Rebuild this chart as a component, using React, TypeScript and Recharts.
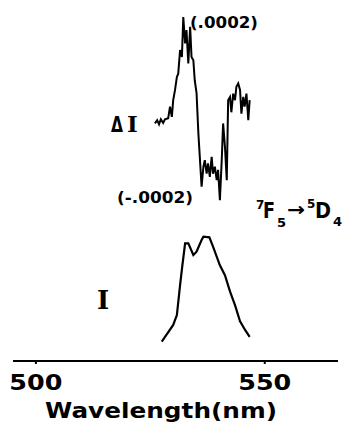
import React from 'react';
import { ComposedChart, Line, XAxis, YAxis, Label } from 'recharts';

// ΔI trace (circular polarization difference), units of 1e-4
const dIWavelength = [
  526.0, 526.5, 526.9, 527.3, 527.8, 528.2, 528.9, 529.3, 529.7, 530.0,
  530.4, 530.8, 531.1, 531.5, 531.9, 532.2, 532.6, 532.9, 533.3, 533.7,
  534.0, 534.4, 534.7, 535.1, 535.5, 536.2, 536.6, 536.9, 537.3, 537.6,
  538.0, 538.4, 538.7, 539.1, 539.5, 539.8, 540.2, 540.6, 540.9, 541.3,
  541.7, 542.0, 542.4, 542.7, 543.1, 543.5, 543.8, 544.2, 544.6, 544.9,
  545.3, 545.6, 546.0, 546.4, 546.7,
];
const dIValue = [
  -0.35, -0.28, -0.37, -0.26, -0.34, -0.26, -0.24, 0.01, -0.21, 0.15,
  0.37, 0.65, 0.72, 1.23, 1.08, 1.94, 1.37, 1.66, 0.94, 1.73,
  1.08, 1.01, 0.58, 0.3, -0.57, -1.71, -1.28, -1.14, -1.43, -1.21,
  -1.5, -1.07, -1.43, -1.28, -1.57, -1.35, -2.0, -1.14, -0.35, -0.85,
  -1.57, 0.15, 0.22, -0.11, 0.29, 0.15, 0.44, 0.51, 0.37, -0.14,
  0.22, 0.01, 0.29, -0.28, 0.15,
];

// total emission intensity I, normalised to the peak
const iWavelength = [
  527.5, 530.0, 530.8, 531.5, 532.0, 532.6, 533.3, 534.4, 535.1, 536.2,
  536.6, 537.9, 538.7, 540.2, 541.3, 542.4, 543.5, 544.6, 545.7, 546.7,
];
const iValue = [
  0.155, 0.29, 0.37, 0.61, 0.77, 0.947, 0.947, 0.853, 0.879, 0.973,
  1.0, 0.995, 0.92, 0.77, 0.69, 0.56, 0.45, 0.32, 0.25, 0.195,
];

const xTicks = [500, 550];

const dIData = dIWavelength.map((w, i) => ({ wl: w, dI: dIValue[i] }));
const iData = iWavelength.map((w, i) => ({ wl: w, I: iValue[i] }));

const bold = { fontFamily: 'DejaVu Sans', fontWeight: 'bold' as const, fill: '#000' };

const WaveTick = ({ x, y, payload }: any) => (
  <text x={x} y={y + 26} textAnchor="middle" fontSize={21} textLength={53} lengthAdjust="spacingAndGlyphs" {...bold}>
    {payload.value}
  </text>
);

export default function App() {
  return (
    <div style={{ position: 'absolute', left: 0, top: 0, width: 354, height: 446, background: '#fff' }}>
      <ComposedChart width={354} height={446} margin={{ top: 10, right: 16, left: 13, bottom: 25 }}>
        <XAxis
          dataKey="wl"
          type="number"
          domain={[495, 566]}
          ticks={xTicks}
          allowDataOverflow
          height={60}
          stroke="#000"
          strokeWidth={2}
          tickSize={3}
          tickMargin={0}
          tick={<WaveTick />}
        >
          <Label
            content={() => (
              <text x={161} y={418} textAnchor="middle" fontSize={21} textLength={232} lengthAdjust="spacingAndGlyphs" {...bold}>
                Wavelength(nm)
              </text>
            )}
          />
        </XAxis>
        <YAxis yAxisId="d" hide domain={[-5.46, 2.09]} allowDataOverflow />
        <YAxis yAxisId="i" hide domain={[0, 2.824]} allowDataOverflow />
        <Line yAxisId="d" data={dIData} dataKey="dI" type="linear" stroke="#000" strokeWidth={2} dot={false} isAnimationActive={false} />
        <Line yAxisId="i" data={iData} dataKey="I" type="linear" stroke="#000" strokeWidth={2.2} dot={false} isAnimationActive={false} />
      </ComposedChart>
      <svg width={354} height={446} style={{ position: 'absolute', left: 0, top: 0, pointerEvents: 'none' }}>
        <text x={190} y={28} fontSize={15} textLength={68} lengthAdjust="spacingAndGlyphs" {...bold}>(.0002)</text>
        <text x={117} y={203} fontSize={15} textLength={76} lengthAdjust="spacingAndGlyphs" {...bold}>(-.0002)</text>
        <text x={111} y={132} fontSize={21} textLength={12} lengthAdjust="spacingAndGlyphs" {...bold}>Δ</text>
        <text x={127} y={132} fontSize={23} fontFamily="DejaVu Serif" fontWeight="bold">I</text>
        <text x={97} y={309} fontSize={26} fontFamily="DejaVu Serif" fontWeight="bold">I</text>
        <text x={256} y={209} fontSize={12} {...bold}>7</text>
        <text x={263} y={218} fontSize={21} textLength={12} lengthAdjust="spacingAndGlyphs" {...bold}>F</text>
        <text x={277} y={227} fontSize={13} {...bold}>5</text>
        <text x={287} y={216} fontSize={19} textLength={18} lengthAdjust="spacingAndGlyphs" {...bold}>→</text>
        <text x={307} y={208} fontSize={12} {...bold}>5</text>
        <text x={315} y={218} fontSize={21} textLength={16} lengthAdjust="spacingAndGlyphs" {...bold}>D</text>
        <text x={333} y={226} fontSize={13} {...bold}>4</text>
      </svg>
    </div>
  );
}
